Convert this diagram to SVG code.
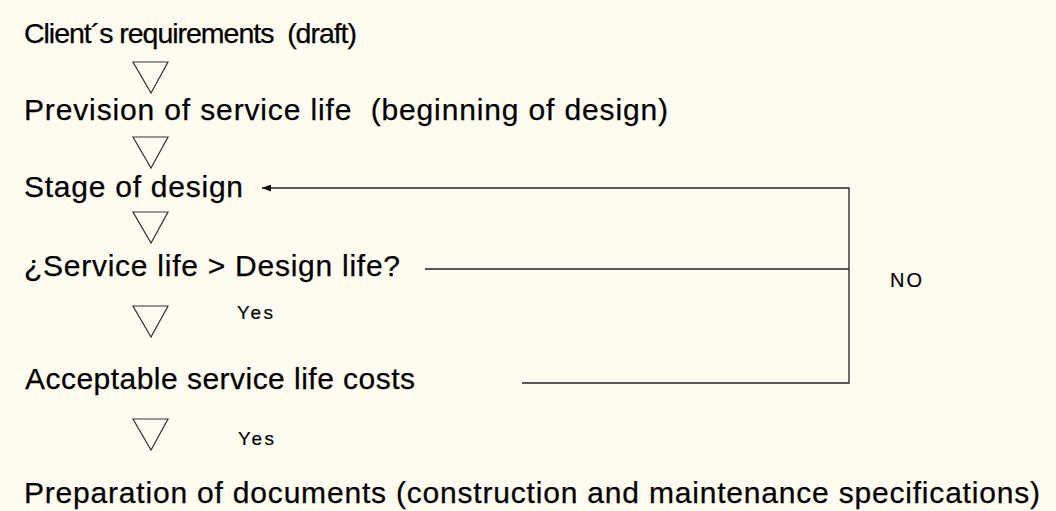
<svg xmlns="http://www.w3.org/2000/svg" width="1056" height="511" viewBox="0 0 1056 511">
<style>
.t{font-family:"Liberation Sans",Arial,sans-serif;font-size:30px;fill:#000;stroke:#000;stroke-width:0.25}
.s{font-family:"Liberation Sans",Arial,sans-serif;font-size:19px;fill:#000;stroke:#000;stroke-width:0.2}
.tri{fill:none;stroke:#333;stroke-width:1.2}
.c{fill:none;stroke:#222;stroke-width:1.3}
</style>
<defs>
<marker id="ah" viewBox="0 0 9 7" refX="9" refY="3.5" markerWidth="9" markerHeight="7" markerUnits="userSpaceOnUse" orient="auto">
<path d="M0,0 L9,3.5 L0,7 Z" fill="#111"/>
</marker>
</defs>
<rect width="1056" height="511" fill="#FEFCF0"/>
<g id="n1"><text class="t" x="24" y="43" style="font-size:28.5px" textLength="333" lengthAdjust="spacing" xml:space="preserve">Client´s requirements  (draft)</text></g>
<g id="a1"><path class="tri" d="M133,62 L168,62 L151,93 Z"/></g>
<g id="n2"><text class="t" x="24" y="120" textLength="644" lengthAdjust="spacing" xml:space="preserve">Prevision of service life  (beginning of design)</text></g>
<g id="a2"><path class="tri" d="M133,137 L168,137 L151,168 Z"/></g>
<g id="n3"><text class="t" x="24" y="197" textLength="219" lengthAdjust="spacing">Stage of design</text></g>
<g id="a3"><path class="tri" d="M133,212 L168,212 L151,243 Z"/></g>
<g id="n4"><text class="t" x="24" y="276" textLength="376" lengthAdjust="spacing">¿Service life &gt; Design life?</text></g>
<g id="a4"><path class="tri" d="M133,306 L168,306 L151,337 Z"/><text class="s" x="237" y="319" textLength="36" lengthAdjust="spacing">Yes</text></g>
<g id="n5"><text class="t" x="25" y="389" textLength="390" lengthAdjust="spacing">Acceptable service life costs</text></g>
<g id="a5"><path class="tri" d="M133,419 L168,419 L151,450 Z"/><text class="s" x="238" y="445" textLength="36" lengthAdjust="spacing">Yes</text></g>
<g id="n6"><text class="t" x="24" y="503" textLength="1016" lengthAdjust="spacing">Preparation of documents (construction and maintenance specifications)</text></g>
<g id="connectors">
<path class="c" d="M425,269 L849,269"/>
<path class="c" d="M522,383 L849,383 L849,188 L262,188" marker-end="url(#ah)"/>
<text class="s" x="890" y="287" style="font-size:20px" textLength="32" lengthAdjust="spacing">NO</text>
</g>
</svg>
